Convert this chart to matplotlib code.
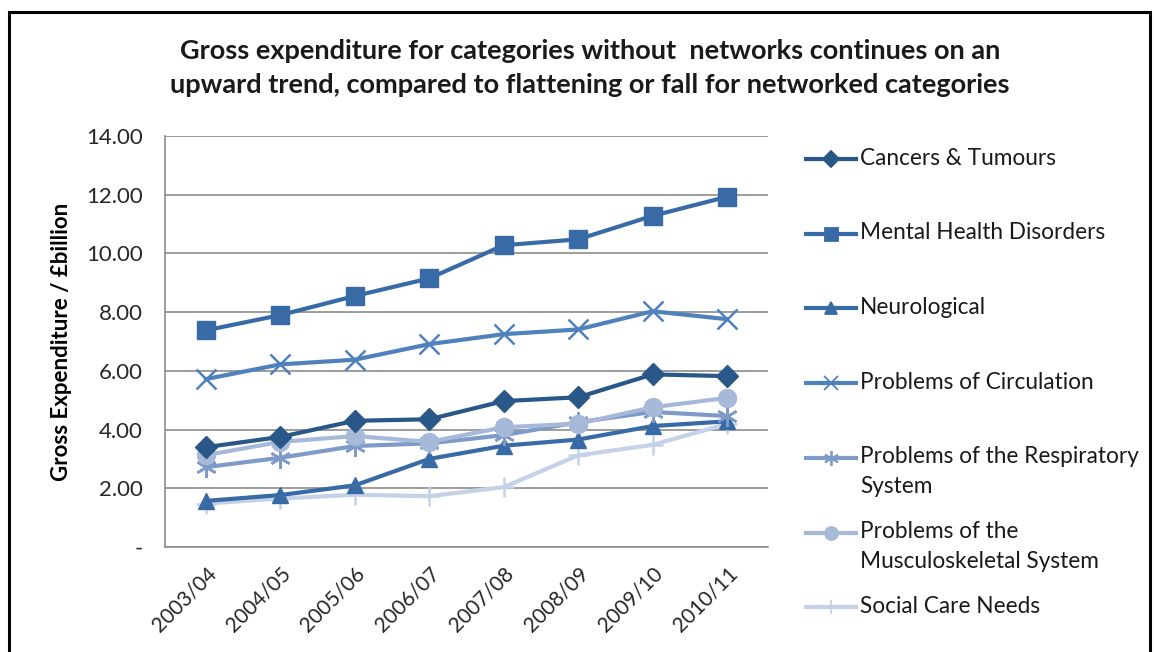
import matplotlib
matplotlib.use("Agg")
import matplotlib.pyplot as plt
from matplotlib.lines import Line2D
from matplotlib.patches import Rectangle

years = ["2003/04", "2004/05", "2005/06", "2006/07", "2007/08", "2008/09", "2009/10", "2010/11"]
cancers = [3.40, 3.75, 4.30, 4.35, 4.97, 5.10, 5.88, 5.82]
mental = [7.38, 7.90, 8.55, 9.15, 10.28, 10.48, 11.28, 11.93]
neuro = [1.57, 1.77, 2.10, 3.00, 3.45, 3.66, 4.12, 4.28]
circulation = [5.72, 6.22, 6.38, 6.91, 7.25, 7.41, 8.03, 7.76]
respiratory = [2.72, 3.04, 3.44, 3.53, 3.81, 4.25, 4.60, 4.46]
musculo = [3.13, 3.58, 3.78, 3.58, 4.08, 4.20, 4.76, 5.08]
social = [1.48, 1.65, 1.78, 1.73, 2.04, 3.12, 3.48, 4.19]

labels = ["Cancers & Tumours", "Mental Health Disorders", "Neurological",
          "Problems of Circulation", "Problems of the Respiratory\nSystem",
          "Problems of the\nMusculoskeletal System", "Social Care Needs"]
series = [cancers, mental, neuro, circulation, respiratory, musculo, social]
colors = ["#285788", "#386AA6", "#386AA6", "#4F81BD", "#7E9AC8", "#A7B9D9", "#C5D1E7"]
markers = ["D", "s", "^", "x", (6, 2, 0), "o", "+"]
msizes = [11, 13, 12, 14, 15, 13, 14]

plt.rcParams['font.family'] = ['Lato', 'DejaVu Sans']

fig = plt.figure(figsize=(11.54, 6.52), dpi=100)
fig.patches.append(Rectangle((9/1154, -0.01), (1150-9)/1154, 1 - 12/652 + 0.01,
                             transform=fig.transFigure,
                             fill=False, edgecolor="black", linewidth=2.2))
ax = fig.add_axes([165/1154, 1-547/652, (768-165)/1154, (547-136)/652])

x = list(range(len(years)))
order = [6, 2, 4, 5, 0, 3, 1]
for i in order:
    mk = markers[i]
    ax.plot(x, series[i], color=colors[i], linewidth=3.0, marker=mk, markersize=msizes[i],
            markeredgewidth=1.8 if mk in ("x", "+", (6, 2, 0)) else 1.0,
            markeredgecolor=colors[i], markerfacecolor=colors[i], zorder=3)

ax.set_xlim(-0.55, len(years) - 0.45)
ax.set_ylim(0, 14)
yt = [0, 2, 4, 6, 8, 10, 12, 14]
ax.set_yticks(yt)
ax.set_yticklabels(["-"] + ["%.2f" % v for v in yt[1:]], fontsize=16, color="#262626")
ax.set_xticks(x)
ax.set_xticklabels(years, rotation=45, ha="right", rotation_mode="anchor", fontsize=15,
                   color="#262626")
ax.tick_params(axis="y", length=0, pad=16)
ax.tick_params(axis="x", length=0, pad=12)
ax.grid(axis="y", color="#8C8C8C", linewidth=1.2)
ax.set_axisbelow(True)
for s in ["top", "right"]:
    ax.spines[s].set_visible(False)
for s in ["left", "bottom"]:
    ax.spines[s].set_color("#8C8C8C")
    ax.spines[s].set_linewidth(1.2)
ax.set_ylabel("Gross Expenditure / £billion", fontsize=16, fontweight="bold", labelpad=10)

fig.text(590/1154, 1-68/652,
         "Gross expenditure for categories without  networks continues on an\nupward trend, compared to flattening or fall for networked categories",
         ha="center", va="center", fontsize=19.5, fontweight="bold", linespacing=1.5,
         color="#1A1A1A")

# legend
for k in range(len(labels)):
    yp = 1 - (159 + 74.7 * k) / 652
    fig.lines.append(Line2D([806/1154, 856/1154], [yp, yp], transform=fig.transFigure,
                            color=colors[k], linewidth=3.0))
    fig.lines.append(Line2D([831/1154], [yp], transform=fig.transFigure, color=colors[k],
                            marker=markers[k], markersize=msizes[k] * 0.72,
                            markeredgewidth=1.3, markerfacecolor=colors[k],
                            markeredgecolor=colors[k], linestyle="none"))
    for j, part in enumerate(labels[k].split("\n")):
        fig.text(860/1154, yp - (30 * j - 1) / 652, part, ha="left", va="center",
                 fontsize=16.3, color="#1A1A1A")

fig.savefig("out.png", dpi=100)
